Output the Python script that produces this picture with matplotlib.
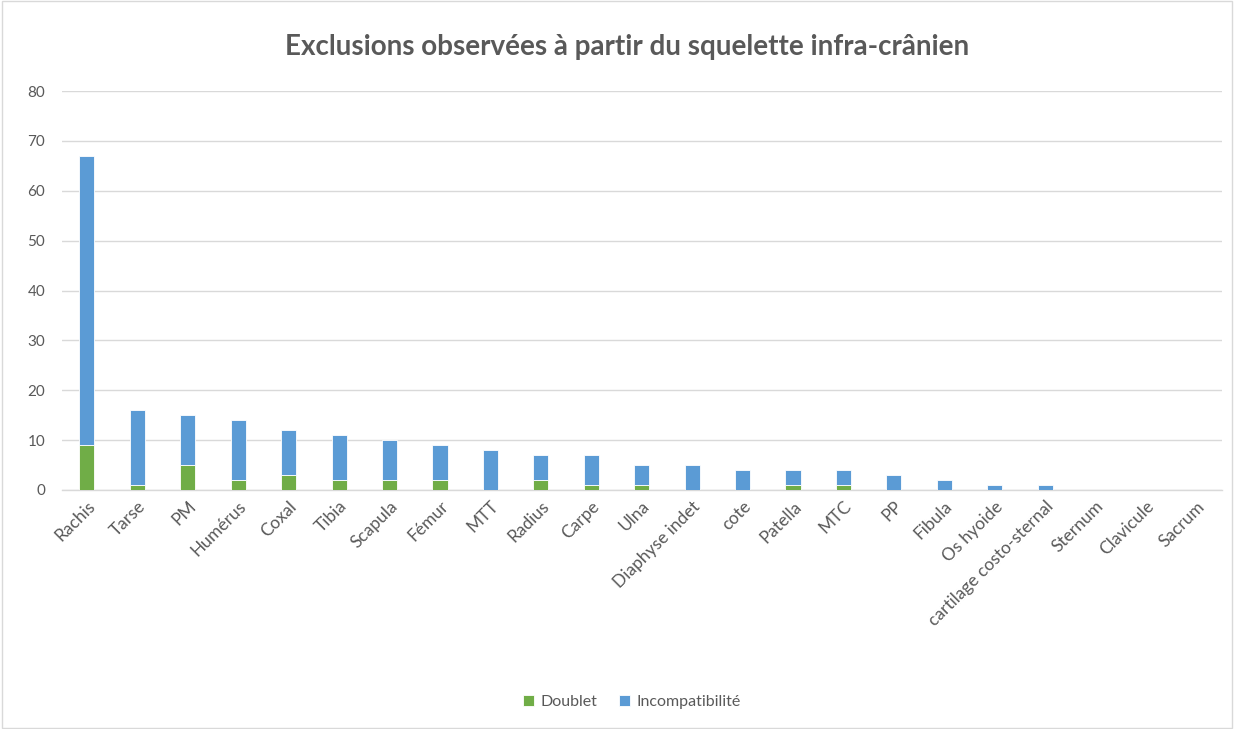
import matplotlib
matplotlib.use("Agg")
import matplotlib.pyplot as plt
from matplotlib.patches import Rectangle

categories = ["Rachis", "Tarse", "PM", "Humérus", "Coxal", "Tibia", "Scapula", "Fémur",
              "MTT", "Radius", "Carpe", "Ulna", "Diaphyse indet", "cote", "Patella", "MTC",
              "PP", "Fibula", "Os hyoide", "cartilage costo-sternal", "Sternum", "Clavicule", "Sacrum"]
doublet = [9, 1, 5, 2, 3, 2, 2, 2, 0, 2, 1, 1, 0, 0, 1, 1, 0, 0, 0, 0, 0, 0, 0]
incompat = [58, 15, 10, 12, 9, 9, 8, 7, 8, 5, 6, 4, 5, 4, 3, 3, 3, 2, 1, 1, 0, 0, 0]
yticks = [0, 10, 20, 30, 40, 50, 60, 70, 80]

plt.rcParams['font.family'] = ['Lato', 'DejaVu Sans']
gray = "#595959"

fig = plt.figure(figsize=(12.34, 7.29), dpi=100)
fig.patches.append(Rectangle((0.002, 0.002), 0.996, 0.996, transform=fig.transFigure,
                             fill=False, edgecolor="#d9d9d9", linewidth=1))
ax = fig.add_axes([0.050, 0.328, 0.940, 0.547])

x = list(range(len(categories)))
w = 0.3
ax.bar(x, doublet, w, color="#70ad47", edgecolor="white", linewidth=0.6, label="Doublet", zorder=3)
ax.bar(x, incompat, w, bottom=doublet, color="#5b9bd5", edgecolor="white", linewidth=0.6,
       label="Incompatibilité", zorder=3)

ax.set_ylim(0, 80)
ax.set_xlim(-0.5, len(categories) - 0.5)
ax.set_yticks(yticks)
ax.yaxis.grid(True, color="#d9d9d9", linewidth=1, zorder=0)
for s in ["top", "right", "left"]:
    ax.spines[s].set_visible(False)
ax.spines["bottom"].set_color("#d9d9d9")
ax.spines["bottom"].set_linewidth(1)
ax.tick_params(axis="both", length=0, colors=gray, labelsize=11)
ax.tick_params(axis="y", pad=12)
ax.set_xticks(x)
ax.set_xticklabels(categories, rotation=45, ha="right", rotation_mode="anchor", fontsize=12.5)
ax.tick_params(axis="x", pad=6)

fig.text(0.508, 0.935, "Exclusions observées à partir du squelette infra-crânien", ha="center",
         va="center", fontsize=20, fontweight="bold", color=gray)

fig.legend(loc="center", bbox_to_anchor=(0.512, 0.037), ncol=2, frameon=False, fontsize=11.5,
           labelcolor=gray, handlelength=0.7, handleheight=0.7, columnspacing=1.3, handletextpad=0.4)

fig.savefig("out.png", dpi=100)
